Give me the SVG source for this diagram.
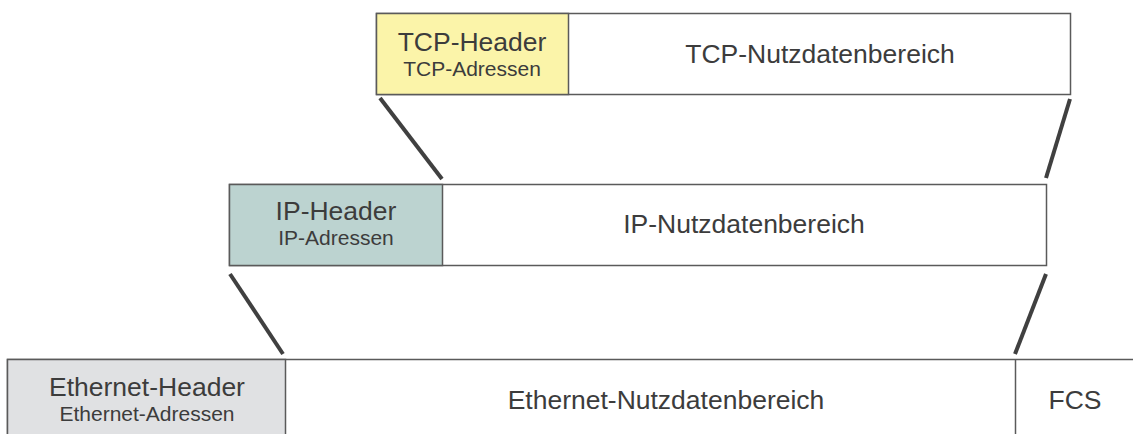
<svg xmlns="http://www.w3.org/2000/svg" width="1133" height="434" viewBox="0 0 1133 434">
<style>
.box{fill:#fff;stroke:#5a5a5a;stroke-width:1.5}
.t{font-family:"Liberation Sans",Arial,sans-serif;fill:#3c3c3c;text-anchor:middle}
.big{font-size:26.5px}
.small{font-size:21px}
.con{stroke:#404040;stroke-width:4;fill:none}
</style>
<rect width="1133" height="434" fill="#fff"/>
<g id="tcp">
<rect class="box" x="376.5" y="13.5" width="694" height="81"/>
<rect class="box" x="376.5" y="13.5" width="192" height="81" style="fill:#fbf4a9"/>
<text class="t big" x="472" y="51">TCP-Header</text>
<text class="t small" x="472" y="76">TCP-Adressen</text>
<text class="t big" x="820" y="63">TCP-Nutzdatenbereich</text>
</g>
<g id="ip">
<rect class="box" x="229.5" y="184.5" width="817" height="81"/>
<rect class="box" x="229.5" y="184.5" width="213" height="81" style="fill:#bcd3d0"/>
<text class="t big" x="336" y="220">IP-Header</text>
<text class="t small" x="336" y="245">IP-Adressen</text>
<text class="t big" x="744" y="233">IP-Nutzdatenbereich</text>
</g>
<g id="ethernet">
<rect class="box" x="7.5" y="359.5" width="1140" height="90"/>
<rect class="box" x="7.5" y="359.5" width="278" height="90" style="fill:#e0e1e3"/>
<line x1="1015.5" y1="359.5" x2="1015.5" y2="434" stroke="#5a5a5a" stroke-width="1.5"/>
<text class="t big" x="147" y="396">Ethernet-Header</text>
<text class="t small" x="147" y="421">Ethernet-Adressen</text>
<text class="t big" x="666" y="409">Ethernet-Nutzdatenbereich</text>
<text class="t big" x="1075" y="409">FCS</text>
</g>
<g id="connectors">
<line class="con" x1="380" y1="98" x2="442" y2="179"/>
<line class="con" x1="1070" y1="99" x2="1046" y2="178"/>
<line class="con" x1="230" y1="274" x2="283" y2="354"/>
<line class="con" x1="1046" y1="274" x2="1015" y2="354"/>
</g>
</svg>
